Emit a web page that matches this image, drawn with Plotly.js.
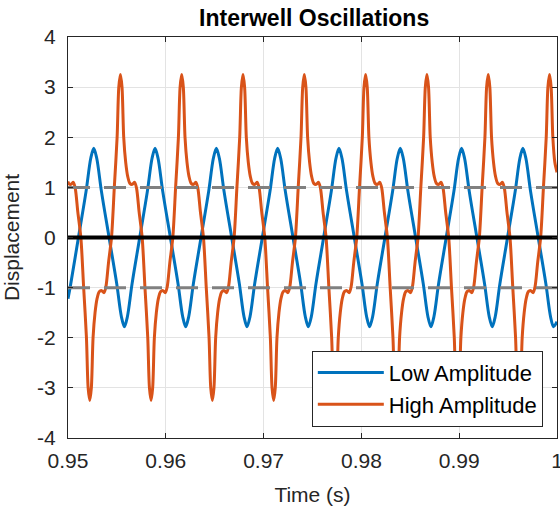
<!DOCTYPE html>
<html>
<head>
<meta charset="utf-8">
<script src="https://cdn.plot.ly/plotly-3.0.1.min.js"></script>
<style>html,body{margin:0;padding:0;background:#fff;}#chart{width:560px;height:506px;}</style>
</head>
<body>
<div id="chart"></div>
<script>
// ---- data ----
var lowTime = [
0.950000,0.950284,0.951066,0.951847,0.952327,
0.952633,0.952939,0.953419,0.954200,0.954981,0.955461,0.955767,0.956073,0.956553,0.957334,0.958115,0.958595,
0.958901,0.959207,0.959687,0.960468,0.961249,0.961729,0.962035,0.962341,0.962821,0.963602,0.964383,0.964863,
0.965170,0.965476,0.965956,0.966737,0.967518,0.967998,0.968304,0.968610,0.969090,0.969871,0.970652,0.971132,
0.971438,0.971744,0.972224,0.973005,0.973786,0.974266,0.974572,0.974878,0.975358,0.976139,0.976920,0.977400,
0.977707,0.978013,0.978493,0.979274,0.980055,0.980535,0.980841,0.981147,0.981627,0.982408,0.983189,0.983669,
0.983975,0.984281,0.984761,0.985542,0.986323,0.986803,0.987109,0.987415,0.987895,0.988676,0.989457,0.989937,
0.990243,0.990549,0.991029,0.991810,0.992591,0.993071,0.993377,0.993683,0.994163,0.994944,0.995725,0.996205,
0.996512,0.996818,0.997298,0.998079,0.998860,0.999340,0.999646,1.000000
];
var lowDisp = [
-1.22,-0.92,0,0.92,1.58,
1.78,1.58,0.92,0,-0.92,-1.58,-1.78,-1.58,-0.92,0,0.92,1.58,
1.78,1.58,0.92,0,-0.92,-1.58,-1.78,-1.58,-0.92,0,0.92,1.58,
1.78,1.58,0.92,0,-0.92,-1.58,-1.78,-1.58,-0.92,0,0.92,1.58,
1.78,1.58,0.92,0,-0.92,-1.58,-1.78,-1.58,-0.92,0,0.92,1.58,
1.78,1.58,0.92,0,-0.92,-1.58,-1.78,-1.58,-0.92,0,0.92,1.58,
1.78,1.58,0.92,0,-0.92,-1.58,-1.78,-1.58,-0.92,0,0.92,1.58,
1.78,1.58,0.92,0,-0.92,-1.58,-1.78,-1.58,-0.92,0,0.92,1.58,
1.78,1.58,0.92,0,-0.92,-1.58,-1.78,-1.68
];

var highTime = [
0.950000,0.950059,0.950314,0.950549,0.950743,0.951008,0.951314,0.951600,0.951886,0.952059,
0.952225,0.952388,0.952562,0.952766,0.952970,0.953194,0.953449,0.953684,0.953878,0.954143,0.954449,0.954735,0.955021,0.955194,
0.955359,0.955522,0.955696,0.955900,0.956104,0.956328,0.956583,0.956818,0.957012,0.957277,0.957583,0.957869,0.958155,0.958328,
0.958493,0.958656,0.958830,0.959034,0.959238,0.959462,0.959717,0.959952,0.960146,0.960411,0.960717,0.961003,0.961289,0.961462,
0.961627,0.961790,0.961964,0.962168,0.962372,0.962596,0.962851,0.963086,0.963280,0.963545,0.963851,0.964137,0.964423,0.964596,
0.964761,0.964924,0.965098,0.965302,0.965506,0.965730,0.965985,0.966220,0.966414,0.966679,0.966985,0.967271,0.967557,0.967730,
0.967895,0.968058,0.968232,0.968436,0.968640,0.968864,0.969119,0.969354,0.969548,0.969813,0.970119,0.970405,0.970691,0.970864,
0.971030,0.971193,0.971367,0.971571,0.971775,0.971999,0.972254,0.972489,0.972683,0.972948,0.973254,0.973540,0.973826,0.973999,
0.974164,0.974327,0.974501,0.974705,0.974909,0.975133,0.975388,0.975623,0.975817,0.976082,0.976388,0.976674,0.976960,0.977133,
0.977298,0.977461,0.977635,0.977839,0.978043,0.978267,0.978522,0.978757,0.978951,0.979216,0.979522,0.979808,0.980094,0.980267,
0.980432,0.980595,0.980769,0.980973,0.981177,0.981401,0.981656,0.981891,0.982085,0.982350,0.982656,0.982942,0.983228,0.983401,
0.983567,0.983730,0.983904,0.984108,0.984312,0.984536,0.984791,0.985026,0.985220,0.985485,0.985791,0.986077,0.986363,0.986536,
0.986701,0.986864,0.987038,0.987242,0.987446,0.987670,0.987925,0.988160,0.988354,0.988619,0.988925,0.989211,0.989497,0.989670,
0.989835,0.989998,0.990172,0.990376,0.990580,0.990804,0.991059,0.991294,0.991488,0.991753,0.992059,0.992345,0.992631,0.992804,
0.992969,0.993132,0.993306,0.993510,0.993714,0.993938,0.994193,0.994428,0.994622,0.994887,0.995193,0.995479,0.995765,0.995938,
0.996103,0.996266,0.996440,0.996644,0.996848,0.997072,0.997327,0.997562,0.997756,0.998021,0.998327,0.998613,0.998899,0.999072,
0.999237,0.999400,0.999574,0.999778,1.000000
];
var highDisp = [
1.12,1.08,1.06,1.10,0.98,0.50,0,-1.0,-2.0,-3.0,
-3.25,-3.0,-2.0,-1.5,-1.22,-1.08,-1.06,-1.10,-0.98,-0.50,0,1.0,2.0,3.0,
3.25,3.0,2.0,1.5,1.22,1.08,1.06,1.10,0.98,0.50,0,-1.0,-2.0,-3.0,
-3.25,-3.0,-2.0,-1.5,-1.22,-1.08,-1.06,-1.10,-0.98,-0.50,0,1.0,2.0,3.0,
3.25,3.0,2.0,1.5,1.22,1.08,1.06,1.10,0.98,0.50,0,-1.0,-2.0,-3.0,
-3.25,-3.0,-2.0,-1.5,-1.22,-1.08,-1.06,-1.10,-0.98,-0.50,0,1.0,2.0,3.0,
3.25,3.0,2.0,1.5,1.22,1.08,1.06,1.10,0.98,0.50,0,-1.0,-2.0,-3.0,
-3.25,-3.0,-2.0,-1.5,-1.22,-1.08,-1.06,-1.10,-0.98,-0.50,0,1.0,2.0,3.0,
3.25,3.0,2.0,1.5,1.22,1.08,1.06,1.10,0.98,0.50,0,-1.0,-2.0,-3.0,
-3.25,-3.0,-2.0,-1.5,-1.22,-1.08,-1.06,-1.10,-0.98,-0.50,0,1.0,2.0,3.0,
3.25,3.0,2.0,1.5,1.22,1.08,1.06,1.10,0.98,0.50,0,-1.0,-2.0,-3.0,
-3.25,-3.0,-2.0,-1.5,-1.22,-1.08,-1.06,-1.10,-0.98,-0.50,0,1.0,2.0,3.0,
3.25,3.0,2.0,1.5,1.22,1.08,1.06,1.10,0.98,0.50,0,-1.0,-2.0,-3.0,
-3.25,-3.0,-2.0,-1.5,-1.22,-1.08,-1.06,-1.10,-0.98,-0.50,0,1.0,2.0,3.0,
3.25,3.0,2.0,1.5,1.22,1.08,1.06,1.10,0.98,0.50,0,-1.0,-2.0,-3.0,
-3.25,-3.0,-2.0,-1.5,-1.22,-1.08,-1.06,-1.10,-0.98,-0.50,0,1.0,2.0,3.0,
3.25,3.0,2.0,1.5,1.30
];

var refLevels = [1, -1];          // dashed well lines
var timeSpan = [0.95, 1.0];
var xTickVals = [0.95, 0.96, 0.97, 0.98, 0.99, 1.0];
var xTickText = ["0.95", "0.96", "0.97", "0.98", "0.99", "1"];
var yTickVals = [-4, -3, -2, -1, 0, 1, 2, 3, 4];
var yTickText = ["-4", "-3", "-2", "-1", "0", "1", "2", "3", "4"];
var seriesNames = ["Low Amplitude", "High Amplitude"];

// ---- traces ----
var FONT = "Liberation Sans, Arial, Helvetica, sans-serif";
var traces = [
  {x: lowTime, y: lowDisp, name: seriesNames[0], type: "scatter", mode: "lines",
   line: {color: "#0072BD", width: 3, shape: "spline", smoothing: 0.9}},
  {x: highTime, y: highDisp, name: seriesNames[1], type: "scatter", mode: "lines",
   line: {color: "#D95319", width: 3, shape: "spline", smoothing: 0.8}}
];
refLevels.forEach(function (lv) {
  traces.push({x: timeSpan, y: [lv, lv], type: "scatter", mode: "lines", showlegend: false,
    hoverinfo: "skip", line: {color: "#808080", width: 3, dash: "22px,14px"}});
});
traces.push({x: timeSpan, y: [0, 0], type: "scatter", mode: "lines", showlegend: false,
  hoverinfo: "skip", line: {color: "#000000", width: 4}});

var axisCommon = {
  showline: true, linecolor: "#262626", linewidth: 1, mirror: "allticks",
  ticks: "inside", ticklen: 5, tickwidth: 1, tickcolor: "#262626",
  showgrid: true, gridcolor: "#e3e3e3", gridwidth: 1, zeroline: false,
  tickfont: {family: FONT, size: 21, color: "#262626"}, tickmode: "array",
  automargin: false, ticklabeloverflow: "allow"
};

var layout = {
  width: 560, height: 506,
  margin: {l: 68, r: 3, t: 37, b: 68},
  paper_bgcolor: "#ffffff", plot_bgcolor: "#ffffff",
  title: {text: "<b>Interwell Oscillations</b>", x: 0.561, xanchor: "center", y: 0.965, yanchor: "middle",
          font: {family: FONT, size: 23, color: "#000000"}},
  xaxis: Object.assign({}, axisCommon, {range: timeSpan, tickvals: xTickVals, ticktext: xTickText,
          ticklabelstandoff: 4,
          title: {text: "Time (s)", font: {family: FONT, size: 21, color: "#262626"}}}),
  yaxis: Object.assign({}, axisCommon, {range: [-4, 4], tickvals: yTickVals, ticktext: yTickText,
          ticklabelstandoff: 7,
          title: {text: "Displacement", font: {family: FONT, size: 21, color: "#262626"}}}),
  showlegend: true,
  legend: {x: 0.971, y: 0.028, xanchor: "right", yanchor: "bottom", bgcolor: "#ffffff",
           bordercolor: "#262626", borderwidth: 1, itemwidth: 66,
           entrywidth: 236, entrywidthmode: "pixels",
           font: {family: FONT, size: 22, color: "#000000"}, tracegroupgap: 0}
};

Plotly.newPlot("chart", traces, layout, {displayModeBar: false, staticPlot: true});
</script>
</body>
</html>
